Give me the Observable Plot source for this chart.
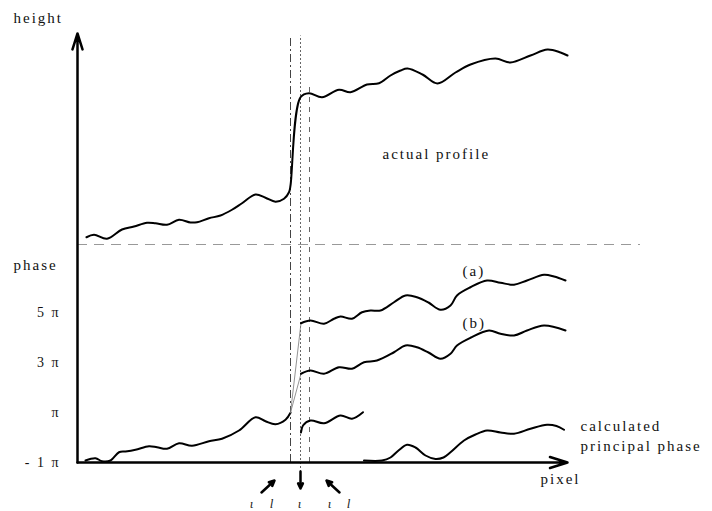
<!DOCTYPE html>
<html><head><meta charset="utf-8">
<script src="https://cdn.jsdelivr.net/npm/d3@7"></script>
<script src="https://cdn.jsdelivr.net/npm/@observablehq/plot@0.6"></script>
<style>
html,body{margin:0;padding:0;background:#fff;}
#chart svg text{letter-spacing:2px;font-family:"Liberation Serif","DejaVu Serif",serif !important;}
</style></head><body><div id="chart"></div>
<script>
// x: pixel index along the profile; y: phase in units of π (height drawn in same units, offset above)
const actualProfile = [[1.8,8.01],[3.3,8.11],[5.9,7.95],[8.9,8.32],[11.3,8.44],[13.9,8.59],[15.6,8.57],[17.9,8.51],[20.3,8.71],[22.6,8.6],[23.9,8.61],[26.3,8.77],[28.6,8.88],[30.9,9.11],[32.9,9.37],[35.6,9.72],[37.6,9.59],[39.6,9.43],[41.3,9.55],[42.3,9.81],[42.6,10.08],[44.6,13.61],[46.3,13.77],[48.9,13.61],[52.3,13.91],[54.6,13.81],[57.9,14.12],[60.3,14.17],[62.6,14.48],[64.6,14.68],[66,14.76],[69,14.52],[72,14.16],[75.6,14.6],[78.6,14.92],[83.6,15.16],[86.6,15.0],[90.6,15.28],[94,15.52],[96.6,15.4],[98,15.28]];
const phaseBase = [[1.6,-0.92],[3.6,-0.83],[4.9,-0.95],[6.6,-0.92],[8.3,-0.59],[9.6,-0.56],[11.6,-0.49],[14.3,-0.35],[15.9,-0.39],[17.9,-0.45],[20.3,-0.23],[22.9,-0.33],[26.3,-0.15],[28.9,-0.05],[32.3,0.28],[35.6,0.81],[37.6,0.65],[39.6,0.53],[41.6,0.71],[42.6,0.99]];
const jumpA = [[42.6,0.99],[44.7,4.57]];
const jumpB = [[42.6,0.99],[44.7,2.55]];
const curveA = [[44.7,4.57],[46.6,4.68],[49.3,4.55],[51.3,4.75],[52.6,4.84],[54.9,4.75],[56.9,5.01],[58.6,5.08],[60.6,5.08],[63.3,5.41],[65.6,5.68],[67.9,5.61],[70.2,5.4],[72.6,5.11],[74.6,5.28],[75.9,5.68],[78.6,6.01],[81.9,6.28],[84.6,6.19],[87.3,6.11],[89.9,6.28],[93.3,6.51],[95.3,6.44],[97.6,6.28]];
const curveB = [[44.7,2.55],[46.6,2.68],[49.3,2.55],[52.3,2.81],[54.9,2.75],[57.3,3.01],[59.9,3.08],[63.3,3.41],[65.6,3.68],[67.9,3.61],[70.2,3.4],[72.6,3.15],[74.6,3.35],[75.9,3.68],[78.6,3.99],[82.3,4.28],[84.6,4.15],[87.3,4.08],[89.9,4.28],[93.3,4.48],[97.6,4.28]];
const principal1 = [[44.7,0.2],[45.1,0.48],[46.6,0.68],[49.3,0.57],[52.6,0.88],[54.9,0.75],[57.1,1.01]];
const principal2 = [[57.3,-0.92],[60.9,-0.92],[62.6,-0.8],[64.2,-0.52],[65.9,-0.29],[67.6,-0.4],[69.6,-0.72],[71.6,-0.86],[73.2,-0.8],[74.6,-0.59],[77.3,-0.12],[79.6,0.12],[81.9,0.28],[84.6,0.2],[87.3,0.15],[90.6,0.35],[93.9,0.51],[95.8,0.46],[97.3,0.31]];
const yTickValues = [-1, 1, 3, 5];
const yTickLabels = ["- 1 π", "π", "3 π", "5 π"];
const jumpLines = [42.6, 44.6, 46.4];
const pixelMarks = [{x1:36.8,y1:-2.2,x2:39.4,y2:-1.72},{x1:44.6,y1:-1.36,x2:44.6,y2:-2.04},{x1:52.4,y1:-2.2,x2:49.8,y2:-1.72}];
const pixelLabels = [{x:35,t:"ι"},{x:39,t:"l"},{x:44.6,t:"ι"},{x:50.6,t:"ι"},{x:54.4,t:"l"}];
const labels = [
  {x:-12.8,y:16.76,t:"height"},
  {x:-12.8,y:6.88,t:"phase"},
  {x:61,y:11.32,t:"actual profile"},
  {x:77,y:6.64,t:"(a)"},
  {x:77,y:4.56,t:"(b)"},
  {x:100.6,y:0.44,t:"calculated"},
  {x:100.6,y:-0.36,t:"principal phase"},
  {x:92.6,y:-1.68,t:"pixel"}
];
const axisTop = 16.16, axisEnd = 98, separatorLevel = 7.72, separatorEnd = 112.6, thirdLineTop = 14.2;

const yTicks = yTickValues.map((v,i)=>({v, label:yTickLabels[i]}));
const P = () => ({x: d => d[0], y: d => d[1]});
const FONT = "Liberation Serif";

const chart = Plot.plot({
  width: 712, height: 511,
  marginTop: 0, marginRight: 0, marginBottom: 0, marginLeft: 0,
  x: {domain: [0, 98], range: [77, 567], axis: null},
  y: {domain: [-1, 5], range: [462, 312], axis: null},
  style: {fontFamily: FONT, fontSize: "15px", background: "#fff", color: "#111"},
  marks: [
    Plot.ruleY([separatorLevel], {x1: 0, x2: separatorEnd, stroke: "#999", strokeWidth: 1, strokeDasharray: "10 7"}),
    Plot.ruleX([jumpLines[0]], {y1: -1, y2: axisTop - 0.1, stroke: "#444", strokeWidth: 1, strokeDasharray: "8 3 2 3"}),
    Plot.ruleX([jumpLines[1]], {y1: -1.4, y2: axisTop - 0.1, stroke: "#666", strokeWidth: 1, strokeDasharray: "2 2"}),
    Plot.ruleX([jumpLines[2]], {y1: -1, y2: thirdLineTop, stroke: "#666", strokeWidth: 1, strokeDasharray: "5 5"}),
    Plot.arrow([0], {x1: 0, y1: -1, x2: 0, y2: axisTop, stroke: "#000", strokeWidth: 2.5, headLength: 10, headAngle: 35}),
    Plot.arrow([0], {x1: 0, y1: -1, x2: axisEnd, y2: -1, stroke: "#000", strokeWidth: 2.5, headLength: 11, headAngle: 35}),
    Plot.line(actualProfile, {...P(), curve: "catmull-rom", stroke: "#000", strokeWidth: 2}),
    Plot.line(phaseBase, {...P(), curve: "catmull-rom", stroke: "#000", strokeWidth: 2}),
    Plot.line(jumpA, {...P(), stroke: "#777", strokeWidth: 0.8}),
    Plot.line(jumpB, {...P(), stroke: "#777", strokeWidth: 0.8}),
    Plot.line(curveA, {...P(), curve: "catmull-rom", stroke: "#000", strokeWidth: 2}),
    Plot.line(curveB, {...P(), curve: "catmull-rom", stroke: "#000", strokeWidth: 2}),
    Plot.line(principal1, {...P(), curve: "catmull-rom", stroke: "#000", strokeWidth: 2}),
    Plot.line(principal2, {...P(), curve: "catmull-rom", stroke: "#000", strokeWidth: 2}),
    Plot.text(yTicks, {y: "v", x: () => -3.4, text: "label", textAnchor: "end", fill: "#111", fontSize: 14, fontFamily: FONT}),
    Plot.text(labels, {x: "x", y: "y", text: "t", textAnchor: "start", fill: "#111", fontSize: 15, fontFamily: FONT}),
    Plot.arrow(pixelMarks, {x1: "x1", y1: "y1", x2: "x2", y2: "y2", stroke: "#000", strokeWidth: 2.5, headLength: 7, headAngle: 50}),
    Plot.text(pixelLabels, {x: "x", y: () => -2.64, text: "t", fill: "#222", fontSize: 13, fontStyle: "italic", fontFamily: FONT})
  ]
});
document.getElementById("chart").appendChild(chart);
</script></body></html>
